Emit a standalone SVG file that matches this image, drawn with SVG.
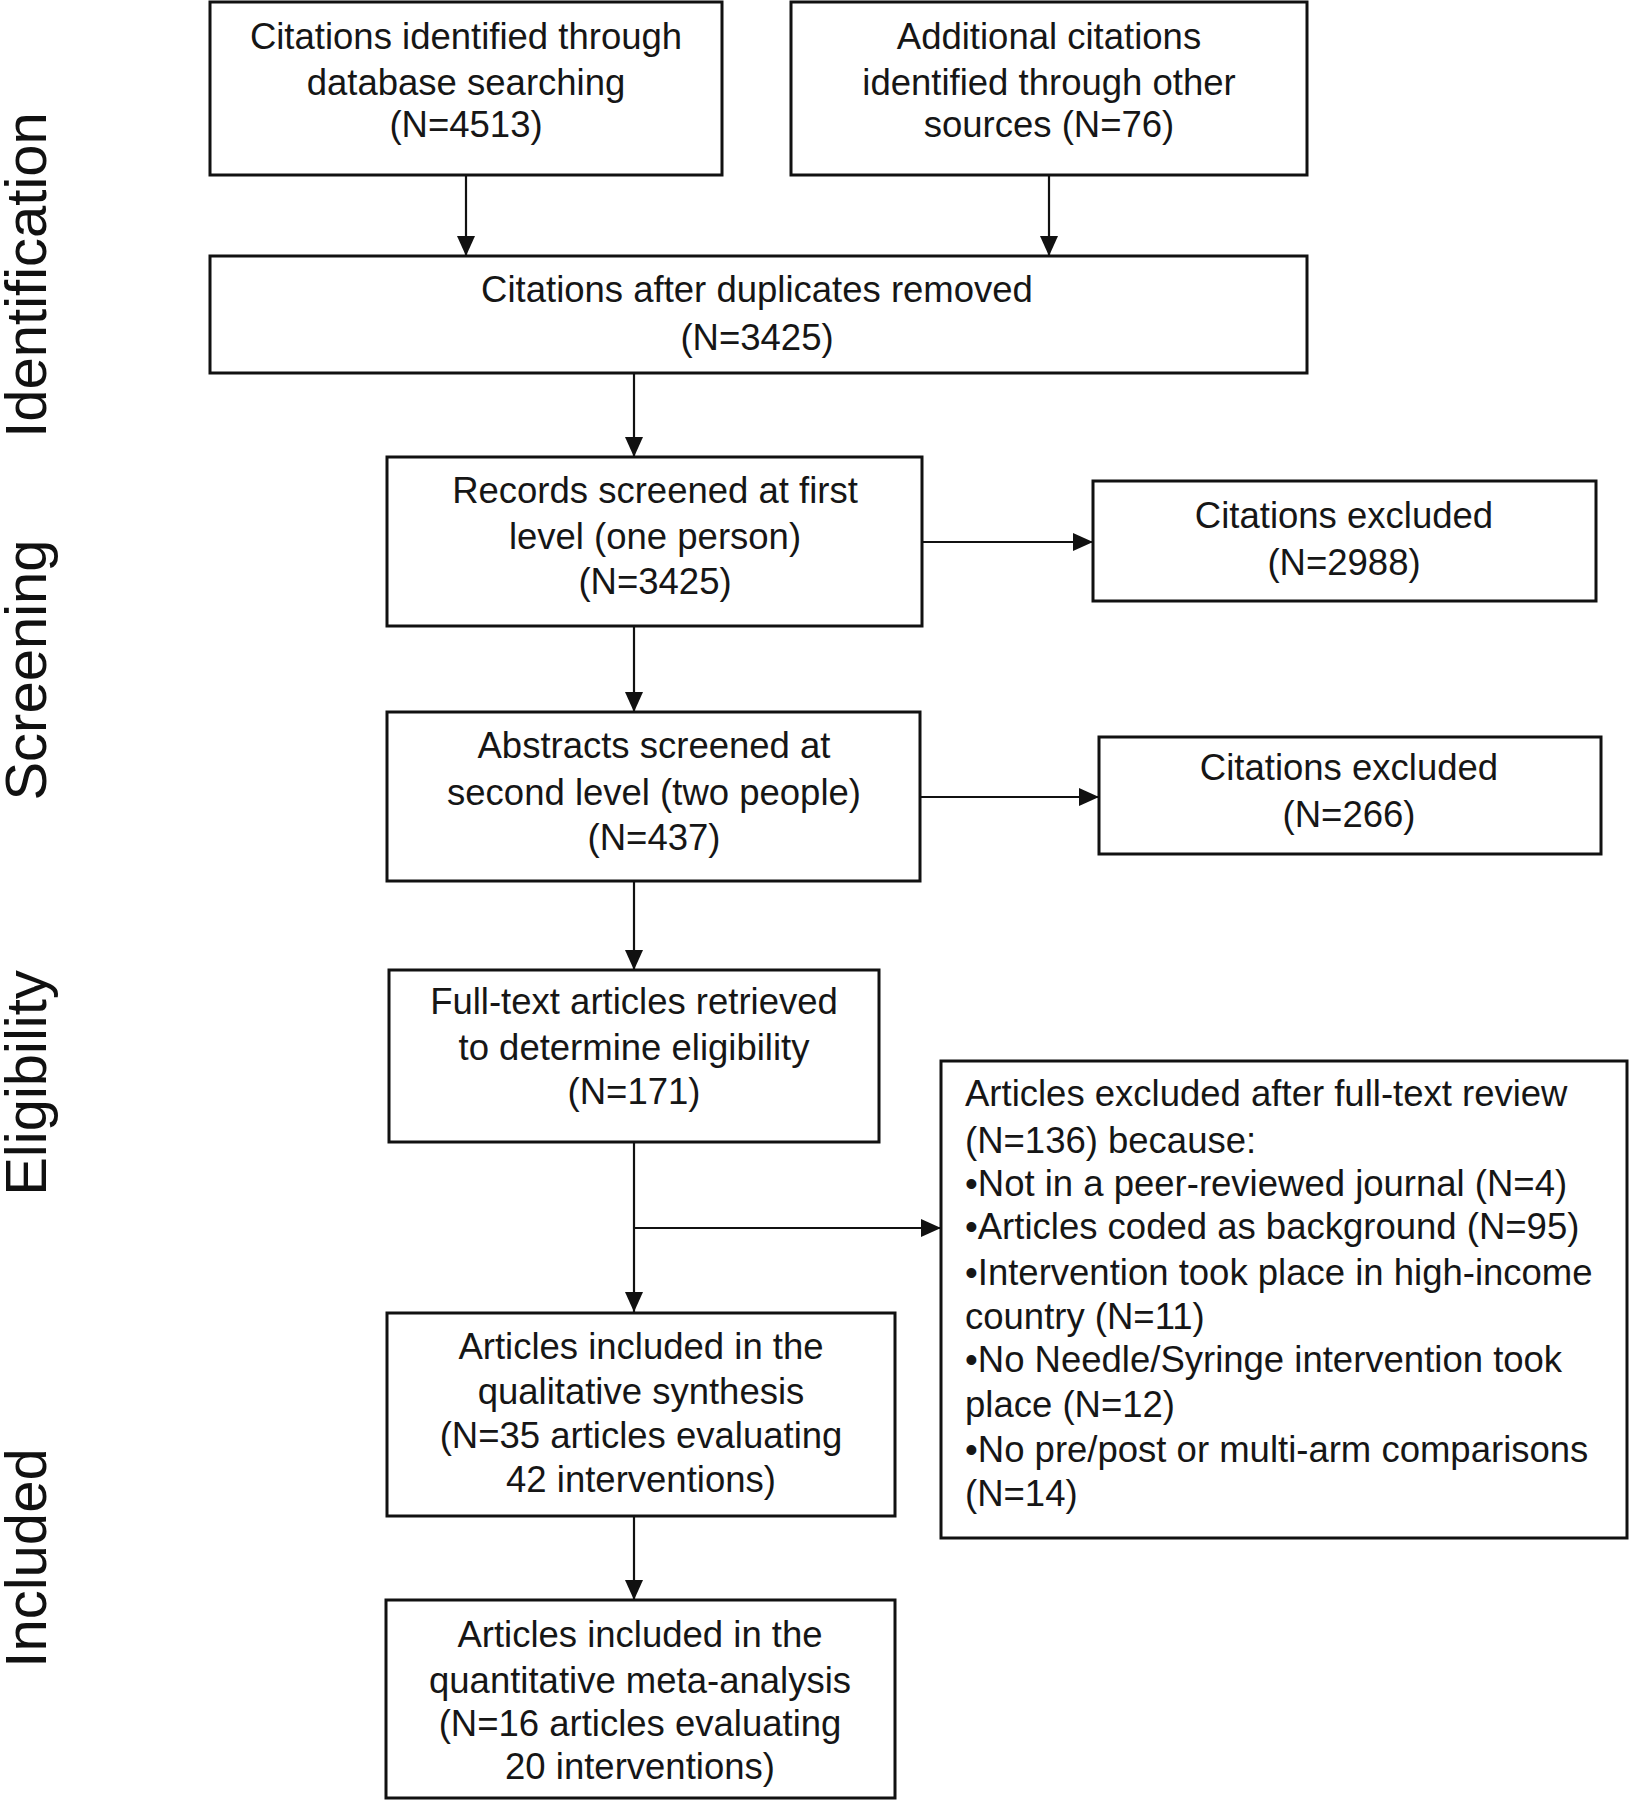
<svg xmlns="http://www.w3.org/2000/svg" width="1629" height="1800" viewBox="0 0 1629 1800">
<style>
.box{fill:#fff;stroke:#111;stroke-width:3}
.t{font-family:"Liberation Sans",Arial,sans-serif;font-size:36.5px;fill:#161616;text-anchor:middle}
.tl{font-family:"Liberation Sans",Arial,sans-serif;font-size:36.5px;fill:#161616}
.side{font-family:"Liberation Sans",Arial,sans-serif;font-size:58px;fill:#111;text-anchor:middle}
.c{stroke:#111;stroke-width:2.2;fill:none}
</style>
<defs>
<marker id="ah" markerUnits="userSpaceOnUse" markerWidth="20" markerHeight="18" refX="20" refY="9" orient="auto">
<path d="M0,0 L20,9 L0,18 z" fill="#111"/>
</marker>
</defs>
<rect width="1629" height="1800" fill="#fff"/>

<g id="phase-labels">
<text class="side" transform="translate(46,275) rotate(-90)">Identification</text>
<text class="side" transform="translate(46,670) rotate(-90)">Screening</text>
<text class="side" transform="translate(46,1083) rotate(-90)">Eligibility</text>
<text class="side" transform="translate(46,1558) rotate(-90)">Included</text>
</g>

<g id="connectors">
<line class="c" x1="466" y1="175" x2="466" y2="256" marker-end="url(#ah)"/>
<line class="c" x1="1049" y1="175" x2="1049" y2="256" marker-end="url(#ah)"/>
<line class="c" x1="634" y1="373" x2="634" y2="457" marker-end="url(#ah)"/>
<line class="c" x1="922" y1="542" x2="1093" y2="542" marker-end="url(#ah)"/>
<line class="c" x1="634" y1="626" x2="634" y2="712" marker-end="url(#ah)"/>
<line class="c" x1="920" y1="797" x2="1099" y2="797" marker-end="url(#ah)"/>
<line class="c" x1="634" y1="881" x2="634" y2="970" marker-end="url(#ah)"/>
<line class="c" x1="634" y1="1142" x2="634" y2="1312" marker-end="url(#ah)"/>
<line class="c" x1="634" y1="1228" x2="941" y2="1228" marker-end="url(#ah)"/>
<line class="c" x1="634" y1="1516" x2="634" y2="1600" marker-end="url(#ah)"/>
</g>

<g id="db-search">
<rect class="box" x="210" y="2" width="512" height="173"/>
<text class="t" x="466" y="49">Citations identified through</text>
<text class="t" x="466" y="95">database searching</text>
<text class="t" x="466" y="137">(N=4513)</text>
</g>

<g id="other-sources">
<rect class="box" x="791" y="2" width="516" height="173"/>
<text class="t" x="1049" y="49">Additional citations</text>
<text class="t" x="1049" y="95">identified through other</text>
<text class="t" x="1049" y="137">sources (N=76)</text>
</g>

<g id="dedup">
<rect class="box" x="210" y="256" width="1097" height="117"/>
<text class="t" x="757" y="302">Citations after duplicates removed</text>
<text class="t" x="757" y="350">(N=3425)</text>
</g>

<g id="screen1">
<rect class="box" x="387" y="457" width="535" height="169"/>
<text class="t" x="655" y="503">Records screened at first</text>
<text class="t" x="655" y="549">level (one person)</text>
<text class="t" x="655" y="594">(N=3425)</text>
</g>

<g id="excluded1">
<rect class="box" x="1093" y="481" width="503" height="120"/>
<text class="t" x="1344" y="528">Citations excluded</text>
<text class="t" x="1344" y="575">(N=2988)</text>
</g>

<g id="screen2">
<rect class="box" x="387" y="712" width="533" height="169"/>
<text class="t" x="654" y="758">Abstracts screened at</text>
<text class="t" x="654" y="805">second level (two people)</text>
<text class="t" x="654" y="850">(N=437)</text>
</g>

<g id="excluded2">
<rect class="box" x="1099" y="737" width="502" height="117"/>
<text class="t" x="1349" y="780">Citations excluded</text>
<text class="t" x="1349" y="827">(N=266)</text>
</g>

<g id="fulltext">
<rect class="box" x="389" y="970" width="490" height="172"/>
<text class="t" x="634" y="1014">Full-text articles retrieved</text>
<text class="t" x="634" y="1060">to determine eligibility</text>
<text class="t" x="634" y="1104">(N=171)</text>
</g>

<g id="excluded3">
<rect class="box" x="941" y="1061" width="686" height="477"/>
<text class="tl" x="965" y="1106">Articles excluded after full-text review</text>
<text class="tl" x="965" y="1153">(N=136) because:</text>
<text class="tl" x="965" y="1196">•Not in a peer-reviewed journal (N=4)</text>
<text class="tl" x="965" y="1239">•Articles coded as background (N=95)</text>
<text class="tl" x="965" y="1285">•Intervention took place in high-income</text>
<text class="tl" x="965" y="1329">country (N=11)</text>
<text class="tl" x="965" y="1372">•No Needle/Syringe intervention took</text>
<text class="tl" x="965" y="1417">place (N=12)</text>
<text class="tl" x="965" y="1462">•No pre/post or multi-arm comparisons</text>
<text class="tl" x="965" y="1506">(N=14)</text>
</g>

<g id="qualitative">
<rect class="box" x="387" y="1313" width="508" height="203"/>
<text class="t" x="641" y="1359">Articles included in the</text>
<text class="t" x="641" y="1404">qualitative synthesis</text>
<text class="t" x="641" y="1448">(N=35 articles evaluating</text>
<text class="t" x="641" y="1492">42 interventions)</text>
</g>

<g id="quantitative">
<rect class="box" x="386" y="1600" width="509" height="198"/>
<text class="t" x="640" y="1647">Articles included in the</text>
<text class="t" x="640" y="1693">quantitative meta-analysis</text>
<text class="t" x="640" y="1736">(N=16 articles evaluating</text>
<text class="t" x="640" y="1779">20 interventions)</text>
</g>
</svg>
